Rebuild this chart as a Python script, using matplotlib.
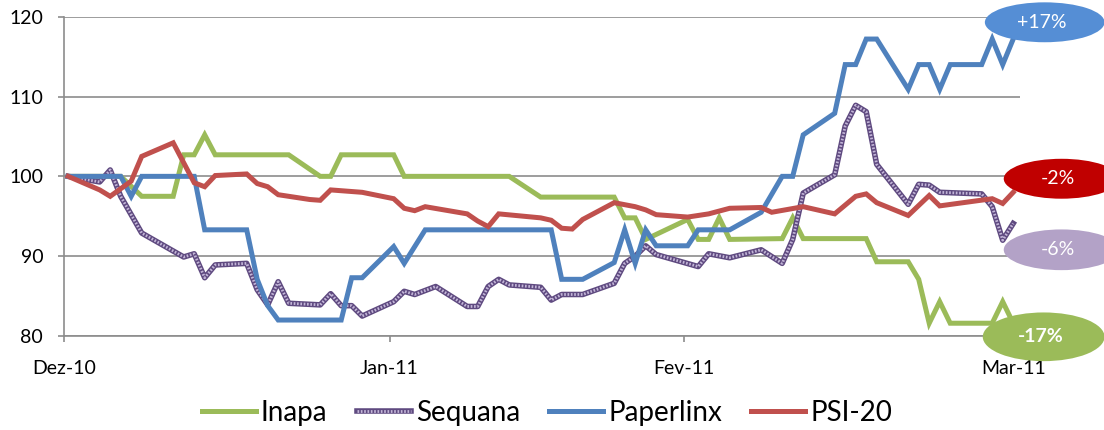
import numpy as np
import matplotlib
matplotlib.use("Agg")
import matplotlib.pyplot as plt
from matplotlib.patches import Ellipse
from matplotlib.legend_handler import HandlerTuple

plt.rcParams['font.family'] = ['Lato', 'DejaVu Sans']

# trading data (day index since start, index value)
inapa_days = [0, 5, 7, 10, 11, 12, 13, 14, 21, 24, 25, 26, 31, 32, 42, 45, 52, 53, 54,
              55, 59, 60, 61, 62, 63, 68, 69, 70, 76, 77, 80, 81, 82, 83, 84, 88, 89, 90]
inapa_vals = [100, 100, 97.5, 97.5, 102.7, 102.7, 105.2, 102.7, 102.7, 100, 100, 102.7,
              102.7, 100, 100, 97.4, 97.4, 94.8, 94.8, 92.1, 94.6, 92.1, 92.1, 94.8, 92.1,
              92.2, 94.8, 92.2, 92.2, 89.3, 89.3, 87.1, 81.6, 84.3, 81.6, 81.6, 84.3, 81.6]

sequana_days = [0, 3, 4, 5, 7, 11, 12, 13, 14, 17, 18, 19, 20, 21, 24, 25, 26, 27, 28,
                31, 32, 33, 35, 38, 39, 40, 41, 42, 45, 46, 47, 49, 52, 53, 54, 55, 56,
                60, 61, 63, 66, 68, 69, 70, 73, 74, 75, 76, 77, 80, 81, 82, 83, 87, 88, 89, 90]
sequana_vals = [100, 99.3, 100.8, 97.5, 92.9, 89.9, 90.3, 87.3, 88.9, 89.1, 85.8, 83.9,
                86.8, 84.1, 83.9, 85.3, 83.8, 83.8, 82.5, 84.3, 85.6, 85.2, 86.2, 83.7,
                83.7, 86.2, 87.1, 86.4, 86.1, 84.5, 85.2, 85.2, 86.6, 89.1, 90.0, 91.3,
                90.2, 88.7, 90.3, 89.8, 90.8, 89.1, 92.1, 97.9, 100.2, 106.3, 108.9, 108.1,
                101.5, 96.5, 99.0, 98.9, 98.0, 97.8, 96.2, 92.0, 94.1]

paperlinx_days = [0, 5, 6, 7, 12, 13, 17, 18, 19, 20, 26, 27, 28, 31, 32, 34, 46, 47, 49,
                  52, 53, 54, 55, 56, 59, 60, 63, 66, 68, 69, 70, 73, 74, 75, 76, 77, 80,
                  81, 82, 83, 84, 87, 88, 89, 90]
paperlinx_vals = [100, 100, 97.5, 100, 100, 93.3, 93.3, 87.1, 83.8, 82.0, 82.0, 87.3,
                  87.3, 91.2, 89.1, 93.3, 93.3, 87.1, 87.1, 89.2, 93.3, 89.1, 93.3, 91.3,
                  91.3, 93.3, 93.3, 95.5, 100, 100, 105.2, 107.9, 114, 114, 117.2, 117.2,
                  110.9, 114, 114, 110.9, 114, 114, 117.2, 114, 117.2]

psi20_days = [0, 3, 4, 6, 7, 10, 12, 13, 14, 17, 18, 19, 20, 23, 24, 25, 28, 31, 32, 33,
              34, 38, 39, 40, 41, 45, 46, 47, 48, 49, 52, 54, 55, 56, 59, 61, 63, 66, 67,
              70, 73, 75, 76, 77, 80, 82, 83, 88, 89, 90]
psi20_vals = [100, 98.3, 97.5, 99.4, 102.5, 104.2, 99.2, 98.7, 100.1, 100.3, 99.1, 98.7,
              97.7, 97.1, 97.0, 98.3, 98.0, 97.2, 96.0, 95.7, 96.2, 95.3, 94.4, 93.7, 95.3,
              94.8, 94.5, 93.5, 93.4, 94.6, 96.7, 96.2, 95.8, 95.2, 94.9, 95.3, 96.0, 96.1,
              95.5, 96.2, 95.3, 97.5, 97.8, 96.7, 95.1, 97.6, 96.3, 97.2, 96.6, 98.0]

month_ticks = [0, 31, 59, 90.4]
month_labels = ['Dez-10', 'Jan-11', 'Fev-11', 'Mar-11']
series_names = ['Inapa', 'Sequana', 'Paperlinx', 'PSI-20']
change_labels = ['-17%', '-6%', '+17%', '-2%']

GREEN = '#9BBB59'
PURPLE_DARK = '#5f4a80'
PURPLE_LIGHT = '#c3b6d8'
BLUE = '#4F81BD'
RED = '#C0504D'
GRID = '#8c8c8c'

fig = plt.figure(figsize=(11.04, 4.30), dpi=100)
ax = fig.add_axes([64 / 1104, 1 - 336 / 430, 955.5 / 1104, 319.3 / 430])

off = 0.4
lw = 3.6
h_inapa, = ax.plot(np.array(inapa_days) + off, inapa_vals, color=GREEN, lw=lw,
                   solid_joinstyle='miter', zorder=3)
seq_x = np.array(sequana_days) + off
h_seq1, = ax.plot(seq_x, sequana_vals, color=PURPLE_DARK, lw=4.0, zorder=4)
h_seq2, = ax.plot(seq_x, sequana_vals, color=PURPLE_LIGHT, lw=2.0, zorder=4,
                  dashes=(0.6, 0.6))
h_pap, = ax.plot(np.array(paperlinx_days) + off, paperlinx_vals, color=BLUE, lw=lw,
                 solid_joinstyle='miter', zorder=5)
h_psi, = ax.plot(np.array(psi20_days) + off, psi20_vals, color=RED, lw=lw,
                 solid_joinstyle='miter', zorder=6)

ax.set_xlim(0, 91)
ax.set_ylim(80, 120)
ax.set_yticks([80, 90, 100, 110, 120])
ax.set_xticks(month_ticks)
ax.set_xticklabels(month_labels)
ax.grid(axis='y', color=GRID, lw=1.2)
ax.set_axisbelow(True)
for s in ['top', 'right']:
    ax.spines[s].set_visible(False)
for s in ['left', 'bottom']:
    ax.spines[s].set_color(GRID)
    ax.spines[s].set_linewidth(1.2)
ax.tick_params(axis='x', direction='out', length=4, color=GRID, width=1.2,
               labelsize=14, pad=13)
ax.tick_params(axis='y', direction='out', length=4, color=GRID, width=1.2,
               labelsize=14, pad=11)

# percent-change bubbles at the right edge
bubbles = [
    (93.3, 79.9, 11.6, 6.1, GREEN, 'bold'),
    (95.0, 90.8, 11.0, 5.1, '#B3A2C7', 'normal'),
    (93.4, 119.3, 11.4, 5.0, '#558ED5', 'normal'),
    (95.0, 99.7, 11.0, 5.0, '#C00000', 'normal'),
]
for (cx, cy, w, h, col, wt), txt in zip(bubbles, change_labels):
    ax.add_patch(Ellipse((cx, cy), w, h, facecolor=col, edgecolor='none',
                         clip_on=False, zorder=10))
    ax.text(cx - 0.3, cy, txt, color='white', fontsize=14, fontweight=wt,
            ha='center', va='center', zorder=11, clip_on=False)

handles = [h_inapa, (h_seq1, h_seq2), h_pap, h_psi]
fig.legend(handles, series_names, loc='center', ncol=4,
           bbox_to_anchor=(547 / 1104, 1 - 413 / 430), frameon=False,
           fontsize=20, handlelength=1.95, handletextpad=0.18, columnspacing=1.05,
           handler_map={tuple: HandlerTuple(ndivide=1)})

fig.savefig('out.png', dpi=100)
